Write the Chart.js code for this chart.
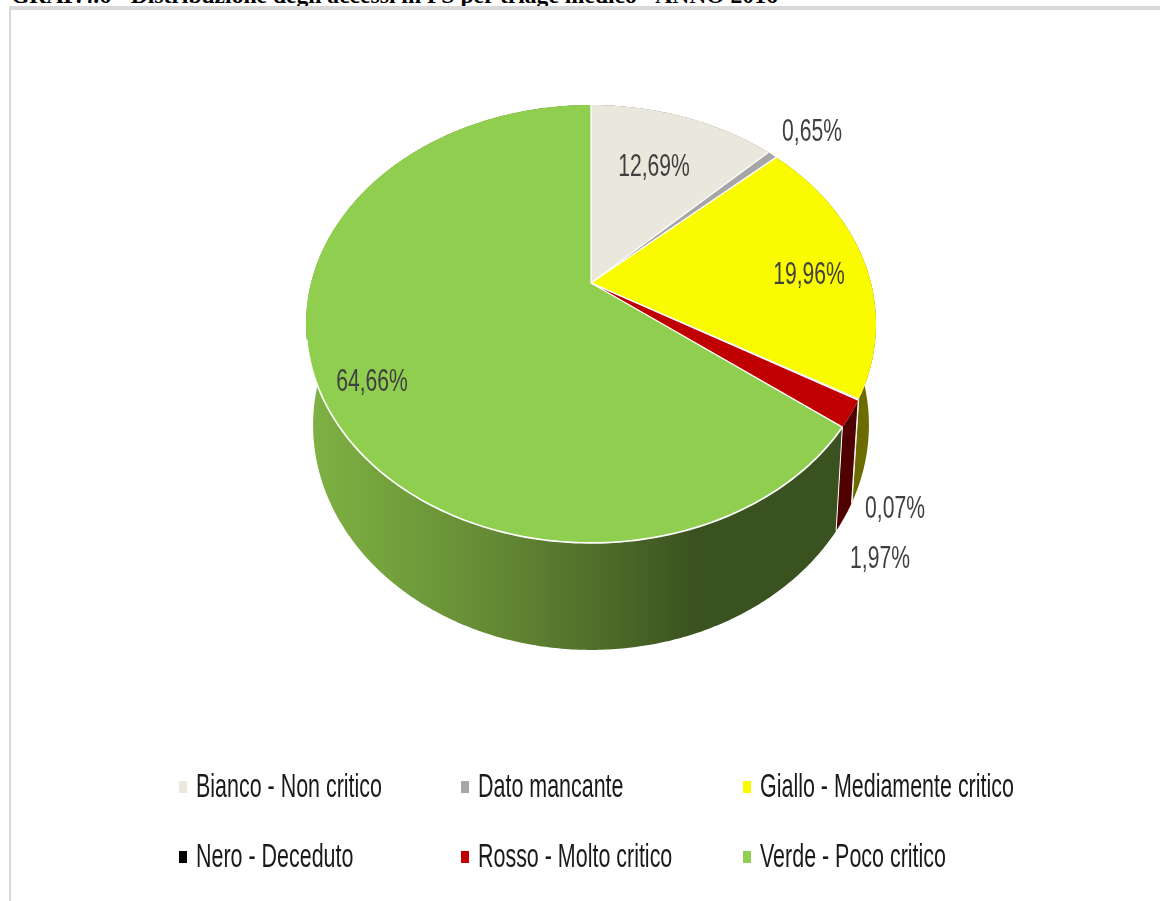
<!DOCTYPE html>
<html><head><meta charset="utf-8">
<style>
html,body{margin:0;padding:0;background:#fff;overflow:hidden}
#wrap{position:absolute;left:0;top:0;width:1160px;height:901px;overflow:hidden}
#title{position:absolute;left:11px;top:-17px;font:bold 23.6px/24px "Liberation Serif",serif;color:#000;white-space:nowrap}
#panel{position:absolute;left:9px;top:6px;right:-10px;bottom:-10px;border:solid #d9d9d9;border-width:4px 0 0 2px}
canvas{position:absolute;left:0;top:0}
</style>
<script src="https://cdn.jsdelivr.net/npm/chart.js@4"></script>
</head><body>
<div id="wrap">
<div id="title">GRAF.4.6 - Distribuzione degli accessi in PS per triage medico - ANNO 2016</div>
<div id="panel"></div>
<canvas id="c" width="1160" height="901"></canvas>
</div>
<script>
const categories=["Bianco - Non critico","Dato mancante","Giallo - Mediamente critico","Nero - Deceduto","Rosso - Molto critico","Verde - Poco critico"];
const values=[12.69,0.65,19.96,0.07,1.97,64.66];
const valueLabels=["12,69%","0,65%","19,96%","0,07%","1,97%","64,66%"];
const topColors=["#eae8dd","#a6a6a6","#fbfb00","#000000","#c00000","#90ce50"];
const sideColors=["#75746e","#535353","#6b6b00","#000000","#4f0000","#3a5120"];

const CX=591;
const topRim={A:280,B:211.3,k:0.187,y0:283};
const botRim={A:273,B:217,k:0.187,y0:383};
function proj(m,a){const u=Math.cos(a),v=-Math.sin(a),d=1+m.k*v;return [CX+m.A*u/d,m.y0-m.B*v/d];}
const labelPos=[[654,165],[812,130],[809,273],[895,507],[880,557],[372,380]];
const legendX=[179,461,743],legendY=[781,851];

const pie3d={id:'pie3d',
 beforeDatasetsDraw(chart){
  const ctx=chart.ctx,arcs=chart.getDatasetMeta(0).data;
  const grad=ctx.createLinearGradient(306,0,700,0);
  grad.addColorStop(0,'#7fb243');grad.addColorStop(0.24,'#729f3c');grad.addColorStop(0.49,'#638834');grad.addColorStop(0.72,'#51702a');grad.addColorStop(1,'#3a5120');
  ctx.lineJoin='round';
  arcs.forEach((el,i)=>{
   const s=el.startAngle,e=el.endAngle,n=Math.max(2,Math.ceil((e-s)/0.01));
   ctx.beginPath();
   for(let j=0;j<=n;j++){const p=proj(topRim,s+(e-s)*j/n);j?ctx.lineTo(p[0],p[1]):ctx.moveTo(p[0],p[1]);}
   for(let j=n;j>=0;j--){const p=proj(botRim,s+(e-s)*j/n);ctx.lineTo(p[0],p[1]);}
   ctx.closePath();
   ctx.fillStyle=i===5?grad:sideColors[i];ctx.fill();
   ctx.strokeStyle='#fff';ctx.lineWidth=1;
   ctx.beginPath();
   const a=proj(topRim,s),b=proj(botRim,s);ctx.moveTo(a[0],a[1]);ctx.lineTo(b[0],b[1]);
   ctx.stroke();
  });
  arcs.forEach((el,i)=>{
   const s=el.startAngle,e=el.endAngle,n=Math.max(2,Math.ceil((e-s)/0.01));
   const path=()=>{for(let j=0;j<=n;j++){const p=proj(topRim,s+(e-s)*j/n);ctx.lineTo(p[0],p[1]);}};
   ctx.beginPath();ctx.moveTo(CX,topRim.y0);path();ctx.closePath();
   ctx.fillStyle=topColors[i];ctx.fill();
  });
  ctx.strokeStyle='#fff';
  ctx.lineWidth=1.3;
  arcs.forEach(el=>{
   const p=proj(topRim,el.startAngle);
   ctx.beginPath();ctx.moveTo(CX,topRim.y0);ctx.lineTo(p[0],p[1]);ctx.stroke();
  });
  const g=arcs[5],stop=g.startAngle+(g.endAngle-g.startAngle)*0.55,n=120;
  ctx.lineWidth=1.7;ctx.lineCap='butt';ctx.beginPath();
  for(let j=0;j<=n;j++){const p=proj(topRim,g.startAngle+(stop-g.startAngle)*j/n);j?ctx.lineTo(p[0],p[1]):ctx.moveTo(p[0],p[1]);}
  ctx.stroke();
  return false;
 },
 afterDraw(chart){
  const ctx=chart.ctx;
  const squeezed=(t,x,y,size,sx,color,align)=>{
   ctx.save();ctx.translate(x,y);ctx.scale(sx,1);
   ctx.font=size+'px "Liberation Sans"';ctx.fillStyle=color;ctx.textAlign=align;ctx.textBaseline='alphabetic';
   ctx.fillText(t,0,0);ctx.restore();
  };
  valueLabels.forEach((t,i)=>squeezed(t,labelPos[i][0],labelPos[i][1]+11,32,0.66,'#404040','center'));
  categories.forEach((t,i)=>{
   const c=i%3,r=Math.floor(i/3);
   ctx.fillStyle=topColors[i];ctx.fillRect(legendX[c],legendY[r],8,12);
   squeezed(t,legendX[c]+17,legendY[r]+16,33,0.65,'#1a1a1a','left');
  });
 }
};
new Chart(document.getElementById('c'),{
 type:'pie',
 data:{labels:categories,datasets:[{data:values,backgroundColor:topColors,borderWidth:0}]},
 options:{responsive:false,animation:false,events:[],plugins:{legend:{display:false},tooltip:{enabled:false},title:{display:false}}},
 plugins:[pie3d]
});
</script>
</body></html>
